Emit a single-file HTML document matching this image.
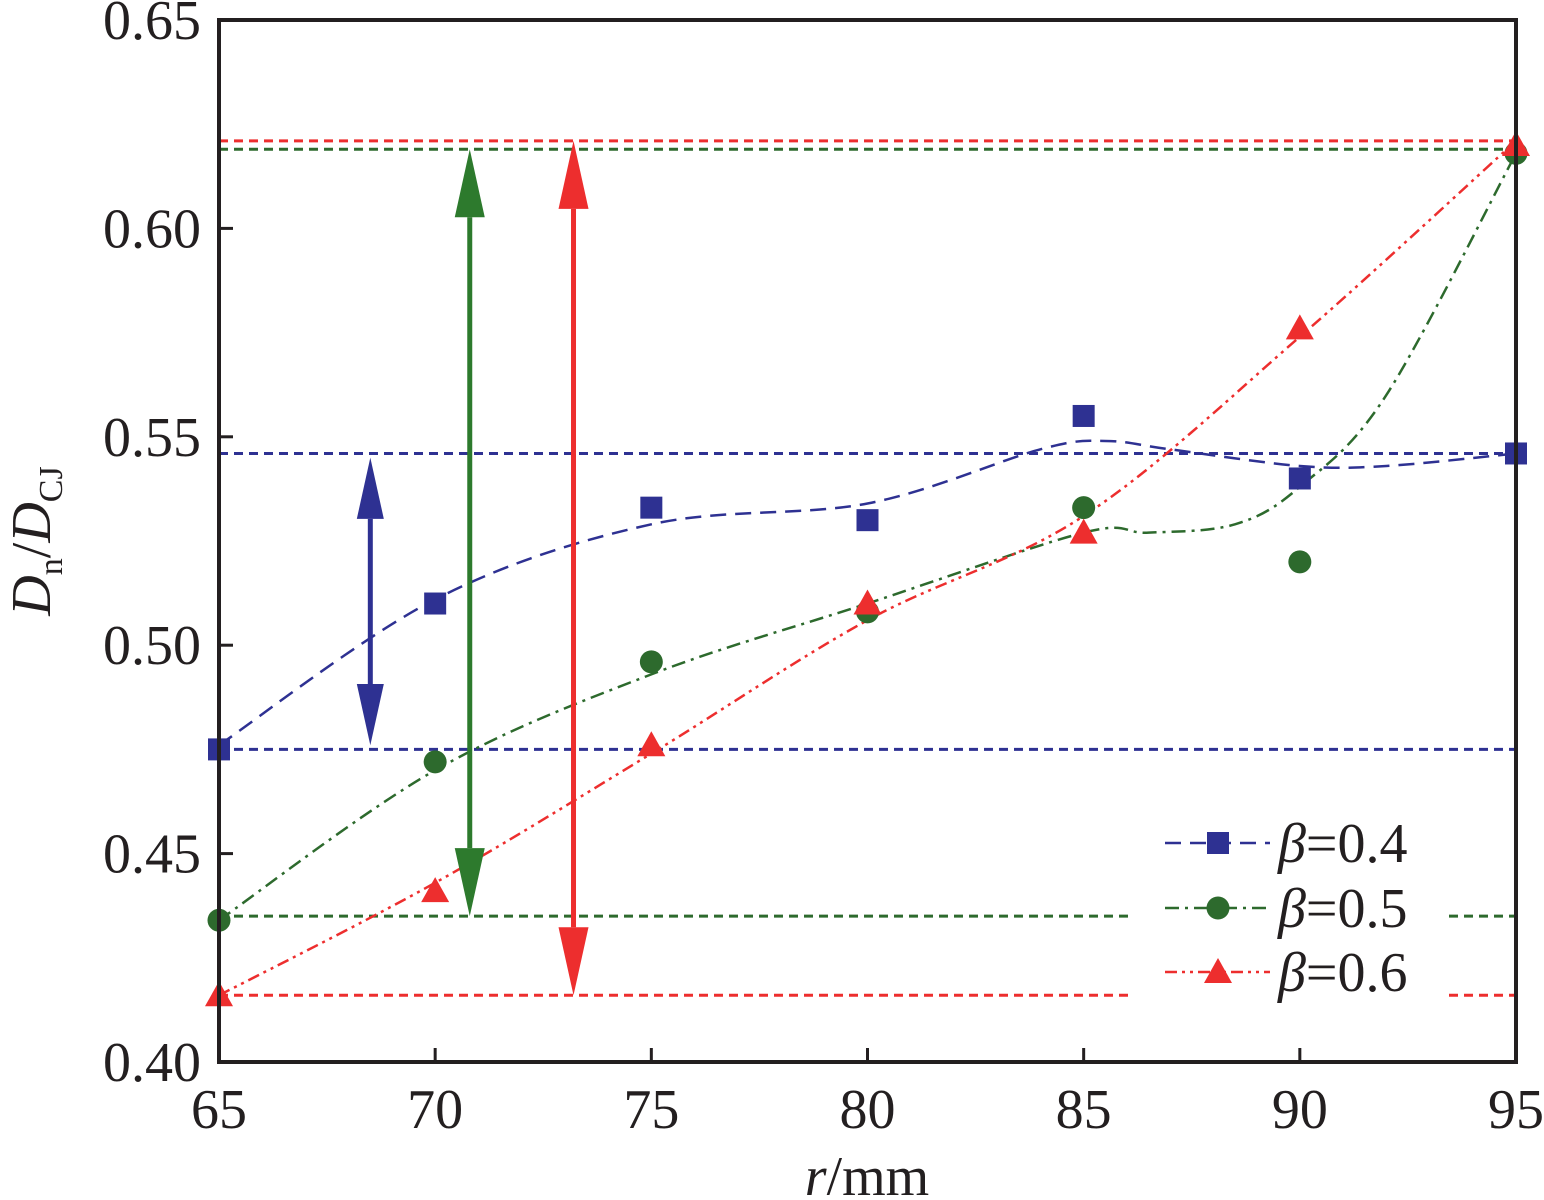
<!DOCTYPE html>
<html><head><meta charset="utf-8"><style>
body{margin:0;background:#fff}
svg text{font-family:"Liberation Serif","Times New Roman",serif;fill:#231f20}
</style></head><body>
<svg id="chart" width="1544" height="1195" xmlns="http://www.w3.org/2000/svg" font-family="Liberation Serif, serif">
</svg>
<script>
const xTicks=[65,70,75,80,85,90,95];
const yTicks=[0.40,0.45,0.50,0.55,0.60,0.65];
const xs=[65,70,75,80,85,90,95];
const b04=[0.475,0.510,0.533,0.530,0.555,0.540,0.546];
const b05=[0.434,0.472,0.496,0.508,0.533,0.520,0.618];
const b06=[0.416,0.441,0.476,0.510,0.527,0.576,0.620];
const fit04x=[65,70,75,80,84,85.5,87,90,92,95];
const fit04=[0.476,0.511,0.529,0.534,0.547,0.549,0.547,0.543,0.543,0.546];
const fit05x=[65,70,75,80,85,86.5,88.5,90,92,95];
const fit05=[0.434,0.470,0.493,0.510,0.527,0.527,0.529,0.538,0.560,0.618];
const fit06x=[65,70,75,80,85,90,95];
const fit06=[0.416,0.443,0.474,0.506,0.531,0.574,0.621];
const hlines=[[0.546,'#2e3192'],[0.475,'#2e3192'],[0.619,'#2d6a2d'],[0.435,'#2d6a2d'],[0.621,'#ed2e2e'],[0.416,'#ed2e2e']];
const arrows=[[68.5,0.545,0.476,'#2e3192',18],[70.8,0.619,0.435,'#2d7a2d',20],[73.2,0.621,0.416,'#ed2e2e',20]];

const X0=219,X1=1516,Y0=1062,Y1=20;
const xs_=v=>X0+(v-65)/30*(X1-X0);
const ys_=v=>Y0-(v-0.40)/0.25*(Y0-Y1);
const svg=document.getElementById('chart');
const NS='http://www.w3.org/2000/svg';
function mk(t,a,p){const e=document.createElementNS(NS,t);for(const k in a)e.setAttribute(k,a[k]);(p||svg).appendChild(e);return e;}
function spline(px,py){const pts=px.map((x,i)=>[xs_(x),ys_(py[i])]);let d='M'+pts[0][0]+','+pts[0][1];
for(let i=0;i<pts.length-1;i++){const p0=pts[Math.max(0,i-1)],p1=pts[i],p2=pts[i+1],p3=pts[Math.min(pts.length-1,i+2)];
d+=` C${p1[0]+(p2[0]-p0[0])/6},${p1[1]+(p2[1]-p0[1])/6} ${p2[0]-(p3[0]-p1[0])/6},${p2[1]-(p3[1]-p1[1])/6} ${p2[0]},${p2[1]}`;}return d;}

hlines.forEach((h,i)=>{const l=mk('line',{x1:X0,x2:X1,y1:ys_(h[0]),y2:ys_(h[0]),stroke:h[1],'stroke-width':3,'stroke-dasharray':'9,6'});

});

const fits=[[fit04x,fit04,'#2e3192','16,9'],[fit05x,fit05,'#2d6a2d','14,6,3,6'],[fit06x,fit06,'#ed2e2e','12,5,3,5,3,5']];
fits.forEach((f,i)=>{const p=mk('path',{d:spline(f[0],f[1]),fill:'none',stroke:f[2],'stroke-width':2.5,'stroke-dasharray':f[3]});

});

arrows.forEach((a,i)=>{const g=mk('g',{});


const x=xs_(a[0]),yt=ys_(a[1]),yb=ys_(a[2]),w=a[4],h=w*3.4;
mk('line',{x1:x,x2:x,y1:yt+h,y2:yb-h,stroke:a[3],'stroke-width':5},g);
mk('polygon',{points:`${x},${yt} ${x-w*0.75},${yt+h} ${x+w*0.75},${yt+h}`,fill:a[3]},g);
mk('polygon',{points:`${x},${yb} ${x-w*0.75},${yb-h} ${x+w*0.75},${yb-h}`,fill:a[3]},g);});

function sq(x,y,c,nm){const e=mk('rect',{x:x-11,y:y-11,width:22,height:22,fill:c});}
function ci(x,y,c,nm){const e=mk('circle',{cx:x,cy:y,r:11.5,fill:c});}
function tr(x,y,c,nm){const e=mk('polygon',{points:`${x},${y-14} ${x-14},${y+11} ${x+14},${y+11}`,fill:c});}
xs.forEach((x,i)=>{sq(xs_(x),ys_(b04[i]),'#2e3192','point-b04-'+x);ci(xs_(x),ys_(b05[i]),'#2d6a2d','point-b05-'+x);tr(xs_(x),ys_(b06[i]),'#ed2e2e','point-b06-'+x);});

const lg=mk('g',{});
mk('rect',{x:1132,y:815,width:312,height:195,fill:'#fff'},lg);
const leg=[['0.4','#2e3192',sq,'16,9',843],['0.5','#2d6a2d',ci,'14,6,3,6',908],['0.6','#ed2e2e',tr,'12,5,3,5,3,5',972]];
leg.forEach(l=>{mk('line',{x1:1165,x2:1270,y1:l[4],y2:l[4],stroke:l[1],'stroke-width':2.5,'stroke-dasharray':l[3]},lg);
l[2](1218,l[4],l[1],'legend-marker-'+l[0]);
const t=mk('text',{x:1278,y:l[4]+19,'font-size':56},lg);t.innerHTML='<tspan font-style="italic">β</tspan>=' + l[0];
});

const fr=mk('rect',{x:X0,y:Y1,width:X1-X0,height:Y0-Y1,fill:'none',stroke:'#231f20','stroke-width':4});

xTicks.forEach(v=>{const x=xs_(v);mk('line',{x1:x,x2:x,y1:Y0,y2:Y0-14,stroke:'#231f20','stroke-width':3});
const t=mk('text',{x:x,y:Y0+66,'font-size':56,'text-anchor':'middle'});t.textContent=v;
});
yTicks.forEach(v=>{const y=ys_(v);mk('line',{x1:X0,x2:X0+14,y1:y,y2:y,stroke:'#231f20','stroke-width':3});
const t=mk('text',{x:X0-18,y:y+19,'font-size':56,'text-anchor':'end'});t.textContent=v.toFixed(2);
});
const xt=mk('text',{x:867,y:1195,'font-size':56,'text-anchor':'middle'});xt.innerHTML='<tspan font-style="italic">r</tspan>/mm';

const yt=mk('text',{transform:'translate(50,541) rotate(-90)','font-size':56,'text-anchor':'middle'});
yt.innerHTML='<tspan font-style="italic">D</tspan><tspan font-size="34" dy="12">n</tspan><tspan dy="-12">/</tspan><tspan font-style="italic">D</tspan><tspan font-size="34" dy="12">CJ</tspan>';

</script>
</body></html>
